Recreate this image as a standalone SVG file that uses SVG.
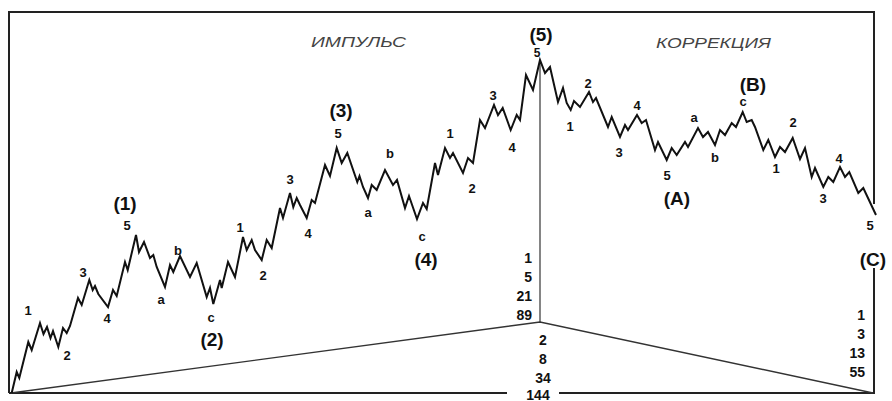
<svg xmlns="http://www.w3.org/2000/svg" width="892" height="401" viewBox="0 0 892 401">
<style>
.frame{stroke:#222;stroke-width:2;fill:none}
.thin{stroke:#333;stroke-width:1.4;fill:none}
.vert{stroke:#666;stroke-width:1.6;fill:none}
.wave{stroke:#111;stroke-width:2;fill:none;stroke-linejoin:miter}
text{font-family:"Liberation Sans",Arial,sans-serif;fill:#111}
.s{font-size:13px;font-weight:bold;text-anchor:middle}
.b{font-size:19px;font-weight:bold;text-anchor:middle}
.n{font-size:14px;font-weight:bold}
.t{font-size:15px;font-style:italic;fill:#444}
</style>
<rect width="892" height="401" fill="#fff"/>
<g id="frame">
<path class="frame" d="M9,393 V12 H874 V204"/>
<path class="frame" d="M874,268 V393 H559 M507,393 H9"/>
</g>
<g id="connectors">
<path class="vert" d="M540,60 V322"/>
<path class="thin" d="M11,393 L540,322 L873,393"/>
</g>
<g id="wave">
<polyline class="wave" points="11.7,393 16.7,372 19.3,378 28.3,342 31.7,350 40,323 43.5,334 47,327 50.5,338 53,331 58.3,347 63,328 66.7,333 70,326 78,298 81.7,305 89.3,280 92.7,290 95,286 98.3,294 108,307 113,290 116.7,296 125,262 127.7,270 136,235 139,252 144,242 150,258 153.3,255 156.7,267 165,287 170,265 173.3,272 180,256 190,277 196.7,263 206.7,297 210,288 213.3,304 220,280 221.7,288 228,262 235,277 243,237 246.7,250 251.7,240 255,250 261.7,260 266.7,240 271.7,248 280,208 283,218 290,193 293.3,207 296.7,198 300,205 306.7,218 311.7,200 315,203 325,165 330,176 336.7,148 341.7,163 347.3,153 357.3,182 359.5,176 363,187 368,198 371.7,185 376.7,190 385,170 393,185 397,180 405,208 409,196 417,219 423,203 426.7,209 435,163 438,175 445,148 450,158 453,153 463,173 468,158 473,163 480,120 485,128 494,105 498,115 502.7,108 510.7,130 516.7,115 520,120 526,75 533,90 540,60 545,73 550,67 558,102 563,88 566.7,103 570.7,110 574,101 580,107 589,92 593,102 596,98 608,127 611.7,117 620,137 625,125 628,130 637,115 641.7,123 646,120 655,150 658,142 666.7,160 671.7,148 676.7,155 685,142 688,147 698,128 703,137 708,132 715,145 720,130 725,135 731.7,123 736,127 742.7,112 746.7,122 751.7,120 755,127 763.3,150 768.3,140 775,157 780,147 785,152 792.7,138 800,159 805,148 811.7,177 815,168 823.3,187 828.3,177 833.3,182 840,167 845,177 849.3,172 858.3,193 863.3,188 876,215"/>
</g>
<g id="titles">
<text class="t" x="311" y="47" textLength="95" lengthAdjust="spacingAndGlyphs">ИМПУЛЬС</text>
<text class="t" x="656" y="48" textLength="115" lengthAdjust="spacingAndGlyphs">КОРРЕКЦИЯ</text>
</g>
<g id="wave1">
<text class="s" x="28" y="315">1</text>
<text class="s" x="67" y="360">2</text>
<text class="s" x="83" y="277">3</text>
<text class="s" x="107" y="323">4</text>
<text class="s" x="127" y="230">5</text>
<text class="b" x="125" y="210">(1)</text>
</g>
<g id="wave2">
<text class="s" x="161" y="304">a</text>
<text class="s" x="178" y="255">b</text>
<text class="s" x="211" y="322">c</text>
<text class="b" x="212" y="346">(2)</text>
</g>
<g id="wave3">
<text class="s" x="240" y="232">1</text>
<text class="s" x="263" y="280">2</text>
<text class="s" x="290" y="184">3</text>
<text class="s" x="308" y="238">4</text>
<text class="s" x="338" y="138">5</text>
<text class="b" x="341" y="117">(3)</text>
</g>
<g id="wave4">
<text class="s" x="368" y="217">a</text>
<text class="s" x="390" y="158">b</text>
<text class="s" x="422" y="241">c</text>
<text class="b" x="426" y="266">(4)</text>
</g>
<g id="wave5">
<text class="s" x="450" y="138">1</text>
<text class="s" x="472" y="193">2</text>
<text class="s" x="493" y="100">3</text>
<text class="s" x="512" y="152">4</text>
<text class="s" x="537" y="57" style="font-size:12px">5</text>
<text class="b" x="541" y="41">(5)</text>
</g>
<g id="waveA">
<text class="s" x="570" y="131">1</text>
<text class="s" x="588" y="88">2</text>
<text class="s" x="619" y="157">3</text>
<text class="s" x="637" y="110">4</text>
<text class="s" x="667" y="180">5</text>
<text class="b" x="677" y="205">(A)</text>
</g>
<g id="waveB">
<text class="s" x="694" y="122">a</text>
<text class="s" x="715" y="162">b</text>
<text class="s" x="743" y="106">c</text>
<text class="b" x="753" y="91">(B)</text>
</g>
<g id="waveC">
<text class="s" x="776" y="173">1</text>
<text class="s" x="793" y="127">2</text>
<text class="s" x="823" y="203">3</text>
<text class="s" x="839" y="163">4</text>
<text class="s" x="870" y="230">5</text>
<text class="b" x="873" y="266">(C)</text>
</g>
<g id="fib-impulse" class="n" text-anchor="end">
<text x="532" y="263">1</text>
<text x="532" y="282">5</text>
<text x="532" y="301">21</text>
<text x="532" y="320">89</text>
</g>
<g id="fib-total" class="n" text-anchor="middle">
<text x="543" y="345">2</text>
<text x="543" y="364">8</text>
<text x="543" y="383">34</text>
<text x="538" y="400">144</text>
</g>
<g id="fib-correction" class="n" text-anchor="end">
<text x="865" y="320">1</text>
<text x="865" y="339">3</text>
<text x="865" y="358">13</text>
<text x="865" y="377">55</text>
</g>
</svg>
